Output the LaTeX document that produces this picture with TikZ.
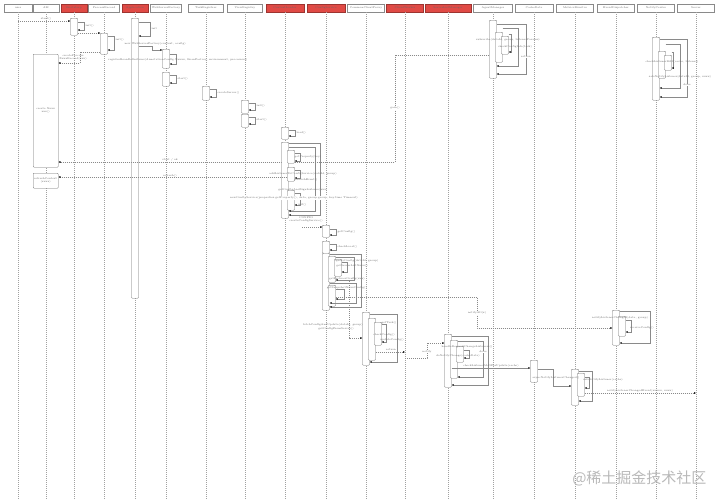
\documentclass[tikz,border=0pt]{standalone}
\usepackage{fontspec}
\newfontfamily\cjkfont{Noto Sans CJK SC}
\usetikzlibrary{arrows.meta,calc}
\definecolor{ln}{HTML}{8A8A8A}
\definecolor{hred}{HTML}{E04A45}
\definecolor{tx}{HTML}{666666}
\tikzset{
 lab/.style={font=\fontsize{2.6}{3}\selectfont, text=tx, inner sep=0.3pt},
 hdr/.style={draw=ln, fill=white, line width=0.4pt, inner sep=0, minimum height=8pt, lab},
 hdrred/.style={hdr, fill=hred, draw=hred!70!black},
 life/.style={draw=ln!80, dash pattern=on 1pt off 1pt, line width=0.3pt},
 act/.style={draw=ln!80!black, fill=white, line width=0.4pt, rounded corners=0.8pt, inner sep=0, minimum width=7pt},
 msg/.style={draw=ln, line width=0.3pt, -{Latex[length=2pt,width=1.8pt,color=black]}},
 ret/.style={msg, dash pattern=on 1.2pt off 0.8pt},
 wlab/.style={lab, fill=white},
}
\newcommand\actbox[4]{\node[act,anchor=north,minimum height={(#4-#3)*1pt}] (#1) at (#2,#3) {};}
\newcommand\sloop[4]{\draw[msg] (#1.east |- 0,#2) -- (#4,#2) -- (#4,#3) -- (#1.east |- 0,#3);}
\begin{document}
\begin{tikzpicture}[x=1pt,y=-1pt]
\fill[white] (0,0) rectangle (720,499);
\useasboundingbox (0,0) rectangle (720,499);
% headers
\node[hdr,minimum width=28pt] (h1) at (18,8) {user};
\node[hdr,minimum width=26pt] (h2) at (46,8) {AM};
\node[hdrred,minimum width=26pt] (h3) at (74,8) {Bootstrap};
\node[hdr,minimum width=31pt] (h4) at (104,8) {ProcessRecord};
\node[hdrred,minimum width=26pt] (h5) at (135,8) {Application};
\node[hdr,minimum width=31pt] (h6) at (166,8) {WebServerFactory};
\node[hdr,minimum width=35pt] (h7) at (206,8) {TaskRegistrar};
\node[hdr,minimum width=35pt] (h8) at (245,8) {ViewRegistry};
\node[hdrred,minimum width=38pt] (h9) at (285,8) {ContextLoader};
\node[hdrred,minimum width=38pt] (h10) at (326,8) {ConfigService};
\node[hdr,minimum width=37pt] (h11) at (366,8) {CommonClientProxy};
\node[hdrred,minimum width=37pt] (h12) at (405,8) {ClientWorker};
\node[hdrred,minimum width=46pt] (h13) at (448,8) {ServerListManager};
\node[hdr,minimum width=39pt] (h14) at (493,8) {AgentManager};
\node[hdr,minimum width=38pt] (h15) at (534,8) {CacheData};
\node[hdr,minimum width=37pt] (h16) at (575,8) {MetricsMonitor};
\node[hdr,minimum width=37pt] (h17) at (616,8) {EventDispatcher};
\node[hdr,minimum width=37pt] (h18) at (656,8) {NotifyCenter};
\node[hdr,minimum width=37pt] (h19) at (696,8) {Server};
\foreach \i in {1,...,19} \draw[life] (h\i.south) -- (h\i.south |- 0,499);

% A, B
\actbox{a1}{74}{18}{35}
\draw[ret] (h1.south |- 0,21) -- (a1.west |- 0,21);
\node[lab] at (46,19) {start()};
\sloop{a1}{22}{30}{84}
\node[lab,anchor=west] at (85,26) {init()};
\actbox{a2}{104}{33}{54}
\draw[ret] (a1.east |- 0,33) -- (a2.west |- 0,33);
\sloop{a2}{36}{50}{114}
\node[lab,anchor=west] at (115,40) {init()};
% C
\node[act,anchor=north west,minimum width=25pt,minimum height=113pt,align=center,lab] (b1) at (33,54) {create Xxxx\\xxx()};
\draw[ret] (a2.west |- 0,52) -- (80,52) -- (80,63) -- (b1.east |- 0,63);
\node[lab,align=center] at (73,57.5) {createProcess\\XxxxRecord(xxx)};
% D
\actbox{a3}{135}{18}{298}
\sloop{a3}{22}{36}{150}
\node[lab,anchor=west] at (151,29) {init};
\actbox{a4}{166}{49}{68}
\draw[msg] (a3.east |- 0,46) -- (152,46) -- (152,50) -- (a4.west |- 0,50);
\node[lab,anchor=west] at (124,43.5) {new WebServerFactory(context, config)};
\sloop{a4}{54}{64}{176}
\node[lab] at (178,60) {registerBeanDefinitions(AnnotationConfig.Xxxxx, BeanFactory, environment, processors)};
\actbox{a5}{166}{72}{86}
\sloop{a5}{75}{83}{176}
\node[lab,anchor=west] at (177,79) {start()};
\actbox{a6}{206}{86}{100}
\sloop{a6}{89}{97}{216}
\node[lab,anchor=west] at (217,93) {createServer()};
\actbox{a7}{245}{100}{113}
\sloop{a7}{103}{110}{255}
\node[lab,anchor=west] at (256,106) {init()};
\actbox{a8}{245}{114}{127}
\sloop{a8}{117}{124}{255}
\node[lab,anchor=west] at (256,120) {start()};

% H
\actbox{a9}{493}{20}{78}
\actbox{a10}{499}{32}{62}
\actbox{a11}{505}{36}{54}
\draw[msg] (a9.east |- 0,24) -- (526,24) -- (526,74) -- (a9.east |- 0,74);
\draw[msg] (a10.east |- 0,28) -- (518,28) -- (518,66) -- (a9.east |- 0,66);
\draw[msg] (a11.east |- 0,34) -- (511,34) -- (511,52) -- (a11.east |- 0,52);
\node[lab] at (508,40) {subscribe(dataId, group, listenerParams)};
\node[lab] at (515,47) {checkConfigInfo(task)};
\node[wlab] at (526,57) {return};
\draw[ret] (a9.west |- 0,55) -- (395,55) -- (395,162) -- (b1.east |- 0,162);
\node[wlab] at (395,108) {gain()};
\node[lab] at (170,160) {start / ok};

% I
\actbox{a12}{656}{37}{100}
\actbox{a13}{662}{51}{78}
\actbox{a14}{668}{55}{70}
\draw[msg] (a12.east |- 0,39) -- (687,39) -- (687,97) -- (a12.east |- 0,97);
\draw[msg] (a13.east |- 0,44) -- (680,44) -- (680,88) -- (a12.east |- 0,88);
\draw[msg] (a14.east |- 0,52) -- (673,52) -- (673,68) -- (a14.east |- 0,68);
\node[lab] at (672,62) {checkListenerMd5(cache, listener)};
\node[lab] at (680,77) {safeNotifyListener(dataId, group, xxxx)};
\node[wlab] at (687,85) {done};

% J
\actbox{a15}{285}{127}{139}
\sloop{a15}{130}{136}{295}
\node[lab,anchor=west] at (296,133) {load()};
\actbox{a16}{285}{142}{218}
\actbox{a17}{291}{150}{163}
\actbox{a18}{291}{167}{181}
\actbox{a19}{291}{190}{210}
\draw[msg] (a16.east |- 0,143) -- (320,143) -- (320,215) -- (a16.east |- 0,215);
\draw[msg] (a16.east |- 0,147) -- (315,147) -- (315,211) -- (a16.east |- 0,211);
\sloop{a17}{153}{161}{300}
\sloop{a18}{170}{178}{300}
\sloop{a19}{193}{205}{300}
\node[lab] at (308,157) {getProperty(key)};
\node[lab] at (303,174) {addListenerToConfigService(dataId, group)};
\node[lab] at (306,180) {publishEvent()};
\node[lab] at (303,190) {getConfigAndSignListener(xxx)};
\node[wlab] at (294,198) {newConfigService(properties.getProperty(), data, group.group, key.time Timeout)};
\node[lab] at (302,205) {init()};
\node[act,anchor=north west,minimum width=25pt,minimum height=15pt,align=center,lab] (b2) at (33,173) {refreshContext\\(xxxx)};
\draw[ret] (a18.west |- 0,177) -- (b2.east |- 0,177);
\node[lab] at (170,175.5) {refresh()};
\node[lab,align=center] at (306,219) {CONFIG\\createConfigService()};
\coordinate (c1) at (302,227);

% K
\actbox{a20}{326}{225}{237}
\draw[ret] (c1) -- (a20.west |- c1);
\sloop{a20}{229}{235}{336}
\node[lab,anchor=west] at (337,232) {getConfig()};
\actbox{a21}{326}{241}{253}
\sloop{a21}{244}{250}{336}
\node[lab,anchor=west] at (337,247) {checkLocal()};
\actbox{a22}{326}{253}{310}
\actbox{a23}{332}{256}{282}
\actbox{a24}{338}{259}{276}
\actbox{a25}{332}{285}{306}
\draw[msg] (a22.east |- 0,254) -- (361,254) -- (361,307) -- (a22.east |- 0,307);
\draw[msg] (a23.east |- 0,257) -- (354,257) -- (354,280) -- (a23.east |- 0,280);
\sloop{a24}{262}{272}{347}
\draw[msg] (a22.east |- 0,283) -- (356,283) -- (356,303) -- (a22.east |- 0,303);
\sloop{a25}{289}{299}{344}
\node[lab] at (357,261) {queryConfig(dataId, group)};
\node[lab] at (352,266) {getServerListXxxx()};
\node[lab] at (347,279) {getFailoverConfig(xxx)};
\node[lab] at (347,288) {getSnapshotXxxxConfig()};

% L
\actbox{b3}{616}{310}{345}
\actbox{b4}{622}{316}{336}
\draw[msg] (b3.east |- 0,311) -- (650,311) -- (650,343) -- (b3.east |- 0,343);
\sloop{b4}{320}{332}{631}
\node[lab] at (620,318) {notifyListenerChanged(data, group)};
\node[lab] at (642,328) {receiveConfig()};
\draw[ret] (a25.east |- 0,297) -- (477,297) -- (477,328) -- (b3.west |- 0,328);
\node[wlab] at (477,313) {notifyAll(x)};

% M
\actbox{a26}{366}{312}{365}
\actbox{a27}{372}{318}{360}
\actbox{a28}{378}{322}{345}
\draw[ret] (349,281) -- (349,338) -- (a26.west |- 0,338);
\draw[msg] (a26.east |- 0,314) -- (397,314) -- (397,362) -- (a26.east |- 0,362);
\sloop{a28}{324}{342}{386}
\node[lab] at (333,325) {fetchConfigAndUpdate(dataId, group)};
\node[lab] at (336,329) {getConfigFromServer()};
\node[lab] at (389,323) {getTask()};
\node[lab] at (384,335) {checkConfig()};
\node[lab] at (392,340) {updateConfig()};
\coordinate (c2) at (405,352);
\coordinate (c3) at (405,358);
\draw[ret] (a27.east |- c2) -- (c2);
\node[lab] at (391,350) {return};
\actbox{a29}{448}{334}{387}
\draw[ret] (c3) -- (427,358) -- (427,343) -- (a29.west |- 0,343);
\node[wlab] at (427,352) {notify};

% O
\actbox{a30}{454}{340}{378}
\actbox{a31}{460}{346}{362}
\draw[msg] (a29.east |- 0,336) -- (488,336) -- (488,385) -- (a29.east |- 0,385);
\draw[msg] (a30.east |- 0,341) -- (483,341) -- (483,377) -- (a30.east |- 0,377);
\sloop{a31}{350}{358}{469}
\node[lab] at (467,347) {handleRequestChangeListeners()};
\node[lab] at (458,356) {doNotifyChange(cacheData)};
\node[wlab] at (483,352) {done};
\actbox{a32}{534}{360}{382}
\draw[msg] (a29.east |- 0,368) -- (a32.west |- 0,368);
\node[lab] at (491,365.5) {checkListenerMd5ForUpdate(cache)};

% P, Q
\actbox{a33}{575}{369}{405}
\actbox{a34}{581}{373}{396}
\draw[msg] (a32.east |- 0,369) -- (553,369) -- (553,386) -- (a33.west |- 0,386);
\node[lab] at (556,378) {asyncNotifyListenerChanged()};
\draw[msg] (a33.east |- 0,371) -- (592,371) -- (592,401) -- (a33.east |- 0,401);
\sloop{a34}{377}{388}{589}
\node[lab] at (603,380) {safeNotifyListener(cache)};
\draw[ret] (a34.east |- 0,393) -- (h19.south |- 0,393);
\node[lab] at (640,390.5) {notifyListenerChangedEvent(xxxxx, xxxx)};

% watermark
\node[font=\cjkfont\fontsize{15}{15}\selectfont, text=gray!55, anchor=east] (wm) at (710,478) {@稀土掘金技术社区};
\end{tikzpicture}
\end{document}
